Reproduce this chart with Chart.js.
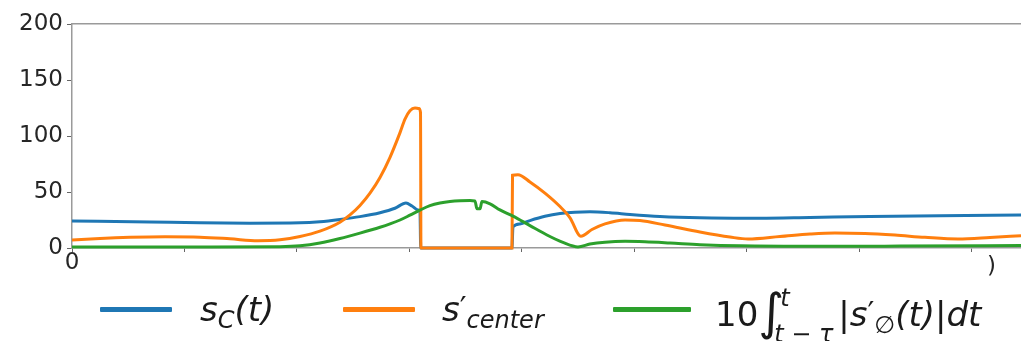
<!DOCTYPE html>
<html>
<head>
<meta charset="utf-8">
<script src="https://cdn.jsdelivr.net/npm/chart.js@4/dist/chart.umd.min.js"></script>
<style>
  html, body { margin: 0; padding: 0; background: #fff; }
  #wrap { position: relative; width: 1021px; height: 341px; overflow: hidden; }
  #plot { position: absolute; left: 0; top: 0; }
  .legend-line { position: absolute; height: 5px; border-radius: 1px; }
  .legend-text { position: absolute; font-family: "DejaVu Sans", sans-serif; font-style: italic;
                 font-size: 34px; line-height: 34px; color: #1a1a1a; white-space: nowrap; }
  .up { font-style: normal; }
  .sub { position: relative; font-size: 24px; top: 7px; }
  .prime { position: relative; font-size: 30px; top: -3px; font-style: normal; }
  .int { font-style: normal; font-size: 50px; position: relative; top: 3px; }
  .limits { display: inline-block; position: relative; width: 60px; height: 10px; margin-left: -6px; }
  .limits span { position: absolute; font-size: 24px; line-height: 24px; }
  .stray { position: absolute; font-family: "DejaVu Sans", sans-serif; font-size: 23px; color: #262626; }
</style>
</head>
<body>
<div id="wrap">
  <canvas id="plot" width="1021" height="341"></canvas>

  <div class="legend-line" style="left:100px; top:307px; width:72px; background:#1f77b4;"></div>
  <div class="legend-text" style="left:200px; top:292px;">s<span class="sub">C</span>(t)</div>

  <div class="legend-line" style="left:343px; top:307px; width:72px; background:#ff7f0e;"></div>
  <div class="legend-text" style="left:442px; top:292px;">s<span class="prime">′</span><span class="sub">center</span></div>

  <div class="legend-line" style="left:613px; top:307px; width:78px; background:#2ca02c;"></div>
  <div class="legend-text" style="left:715px; top:292px;"><span class="up">10</span><span class="int">∫</span><span class="limits"><span style="left:2px; top:-30px;">t</span><span style="left:-4px; top:6px;">t − τ</span></span>|s<span class="prime">′</span><span class="sub up">∅</span>(t)|dt</div>

  <div class="stray" style="left:987px; top:252px;">)</div>
</div>

<script>
// Time axis (one unit per tick) and the three signals sampled along it.
const sCTime  = [0, 0.693, 1.138, 1.582, 2.027, 2.204, 2.382, 2.560, 2.738, 2.871, 2.969, 3.022, 3.076, 3.093, 3.100,
                 3.911, 3.920, 3.982, 4.071, 4.204, 4.338, 4.471, 4.604, 4.782, 4.960, 5.227, 5.582, 6.116, 6.560, 7.093, 7.716, 8.436];
const sCValue = [24.1, 23.2, 22.5, 22.2, 22.5, 23.5, 25.5, 28.0, 31.5, 35.5, 40.2, 37.5, 34.0, 33.5, 0,
                 0, 19.0, 21.5, 24.5, 28.3, 30.8, 32.0, 32.3, 31.5, 30.0, 28.2, 27.0, 26.6, 27.3, 28.2, 28.9, 29.4];

const sCenterTime  = [0, 0.249, 0.516, 0.827, 1.138, 1.404, 1.653, 1.849, 2.027, 2.204, 2.382, 2.471, 2.560, 2.649, 2.738,
                      2.827, 2.916, 2.960, 3.004, 3.049, 3.084, 3.098, 3.102,
                      3.911, 3.916, 3.964, 4.071, 4.204, 4.338, 4.427, 4.524, 4.622, 4.738, 4.916, 5.049, 5.271,
                      5.582, 5.849, 6.009, 6.293, 6.560, 6.782, 7.049, 7.316, 7.582, 7.876, 8.160, 8.436];
const sCenterValue = [7.1, 8.5, 9.5, 10.0, 9.7, 8.2, 6.5, 7.3, 10.2, 15.0, 23.0, 29.5, 38.0, 49.0, 63.0,
                      81.0, 103.0, 115.0, 122.5, 125.0, 124.5, 121.0, 0,
                      0, 65.0, 65.5, 59.0, 49.0, 37.0, 27.0, 10.5, 16.5, 21.5, 25.0, 24.5, 20.5,
                      14.3, 9.8, 8.0, 10.2, 12.5, 13.5, 13.0, 11.5, 9.5, 8.0, 9.3, 11.0];

const intTime  = [0, 1.138, 1.849, 2.027, 2.204, 2.382, 2.560, 2.738, 2.827, 2.916, 3.004, 3.093, 3.182, 3.271, 3.360,
                  3.449, 3.538, 3.582, 3.600, 3.627, 3.644, 3.716, 3.804, 3.920, 4.071, 4.222, 4.364, 4.498,
                  4.604, 4.738, 4.916, 5.093, 5.316, 5.582, 5.938, 6.649, 7.360, 8.436];
const intValue = [0.9, 0.9, 1.2, 2.0, 4.5, 8.5, 13.3, 18.5, 21.5, 25.0, 29.3, 33.8, 37.8, 40.2, 41.6,
                  42.2, 42.3, 42.0, 35.0, 35.0, 41.5, 39.5, 34.0, 28.5, 20.0, 11.6, 5.0, 1.0,
                  3.5, 5.2, 6.0, 5.6, 4.5, 3.0, 1.9, 1.5, 1.7, 2.2];

const yTicks = [0, 50, 100, 150, 200];
const xTickLabels = { 0: '0' };

const toPoints = (xs, ys) => xs.map((x, i) => ({ x, y: ys[i] }));

const tickFont = { family: 'DejaVu Sans', size: 23, lineHeight: 1.0 };
const axisGray = '#9a9a9a';
const textColor = '#262626';

new Chart(document.getElementById('plot'), {
  type: 'line',
  data: {
    datasets: [
      { label: 's_C(t)', data: toPoints(sCTime, sCValue), borderColor: '#1f77b4', order: 3 },
      { label: "s'_center", data: toPoints(sCenterTime, sCenterValue), borderColor: '#ff7f0e', order: 2 },
      { label: "10∫|s'(t)|dt", data: toPoints(intTime, intValue), borderColor: '#2ca02c', order: 1 }
    ]
  },
  options: {
    responsive: false,
    animation: false,
    devicePixelRatio: 1,
    layout: { padding: { top: 24, right: 0, left: 0, bottom: 0 } },
    datasets: {
      line: {
        borderWidth: 3,
        pointRadius: 0,
        fill: false,
        cubicInterpolationMode: 'monotone',
        clip: { left: 0, right: 0, top: 6, bottom: 6 }
      }
    },
    plugins: { legend: { display: false }, tooltip: { enabled: false } },
    scales: {
      x: {
        type: 'linear',
        position: 'bottom',
        min: 0,
        max: 8.436,
        afterFit: s => { s.height = 93; },
        ticks: {
          stepSize: 1,
          includeBounds: false,
          autoSkip: false,
          maxRotation: 0,
          padding: 0,
          font: tickFont,
          color: textColor,
          callback: v => (xTickLabels[v] !== undefined ? xTickLabels[v] : '')
        },
        grid: { drawOnChartArea: false, tickLength: 4, color: '#666' },
        border: { color: axisGray, width: 1.5 }
      },
      xTop: {
        type: 'linear',
        position: 'top',
        min: 0,
        max: 8.436,
        afterFit: s => { s.height = 0; },
        ticks: { display: false },
        grid: { display: false, drawTicks: false },
        border: { display: true, color: axisGray, width: 1.5 }
      },
      y: {
        min: 0,
        max: 200,
        afterFit: s => { s.width = 72; },
        afterBuildTicks: s => { s.ticks = yTicks.map(v => ({ value: v })); },
        ticks: { padding: 4, font: tickFont, color: textColor },
        grid: { drawOnChartArea: false, tickLength: 5, color: '#666' },
        border: { color: axisGray, width: 1.5 }
      }
    }
  }
});
</script>
</body>
</html>
